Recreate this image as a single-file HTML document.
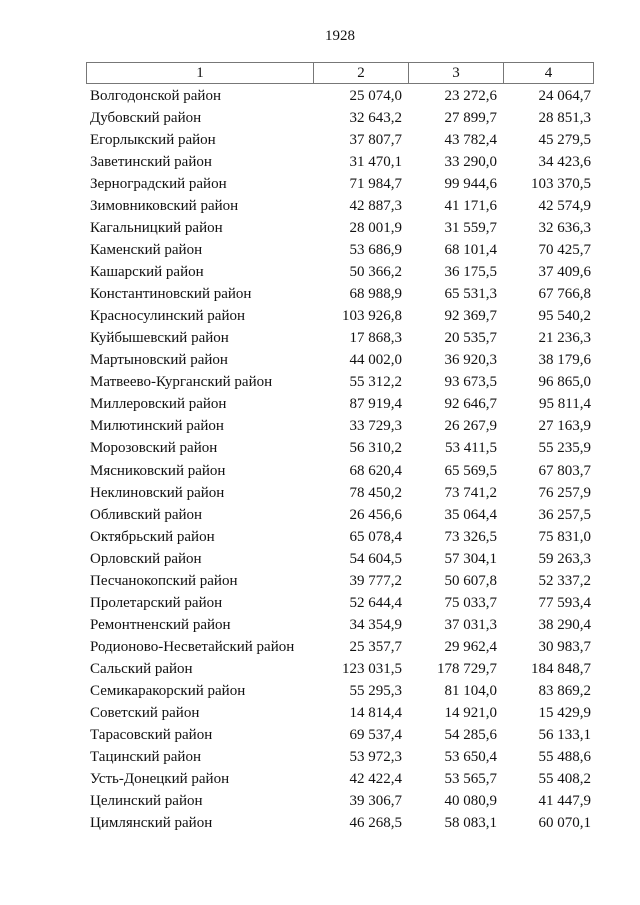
<!DOCTYPE html>
<html><head><meta charset="utf-8"><style>
body{margin:0;width:640px;height:905px;background:#fff;font-family:"Liberation Serif",serif;color:#111;position:relative;}
.pn{position:absolute;top:28px;left:0;width:680px;text-align:center;font-size:15px;}
.hdr{position:absolute;top:62px;left:86px;width:508px;height:22px;border:1px solid #777;box-sizing:border-box;}
.hdr div{position:absolute;top:0;height:20px;line-height:21px;text-align:center;font-size:15px;border-right:1px solid #777;}
.r{position:absolute;left:0;width:640px;height:22px;font-size:15px;line-height:22px;}
.r span{position:absolute;white-space:nowrap;}
.n{left:90px;}
.a{right:238px;}.b{right:143px;}.c{right:49px;}
</style></head><body>
<div class="pn">1928</div>
<div class="hdr">
<div style="left:0;width:226px">1</div>
<div style="left:227px;width:94px">2</div>
<div style="left:322px;width:94px">3</div>
<div style="left:417px;width:89px;border-right:none">4</div>
</div>
<div id="rows"></div>
<script>
var d=[["Волгодонской район","25 074,0","23 272,6","24 064,7"],
["Дубовский район","32 643,2","27 899,7","28 851,3"],
["Егорлыкский район","37 807,7","43 782,4","45 279,5"],
["Заветинский район","31 470,1","33 290,0","34 423,6"],
["Зерноградский район","71 984,7","99 944,6","103 370,5"],
["Зимовниковский район","42 887,3","41 171,6","42 574,9"],
["Кагальницкий район","28 001,9","31 559,7","32 636,3"],
["Каменский район","53 686,9","68 101,4","70 425,7"],
["Кашарский район","50 366,2","36 175,5","37 409,6"],
["Константиновский район","68 988,9","65 531,3","67 766,8"],
["Красносулинский район","103 926,8","92 369,7","95 540,2"],
["Куйбышевский район","17 868,3","20 535,7","21 236,3"],
["Мартыновский район","44 002,0","36 920,3","38 179,6"],
["Матвеево-Курганский район","55 312,2","93 673,5","96 865,0"],
["Миллеровский район","87 919,4","92 646,7","95 811,4"],
["Милютинский район","33 729,3","26 267,9","27 163,9"],
["Морозовский район","56 310,2","53 411,5","55 235,9"],
["Мясниковский район","68 620,4","65 569,5","67 803,7"],
["Неклиновский район","78 450,2","73 741,2","76 257,9"],
["Обливский район","26 456,6","35 064,4","36 257,5"],
["Октябрьский район","65 078,4","73 326,5","75 831,0"],
["Орловский район","54 604,5","57 304,1","59 263,3"],
["Песчанокопский район","39 777,2","50 607,8","52 337,2"],
["Пролетарский район","52 644,4","75 033,7","77 593,4"],
["Ремонтненский район","34 354,9","37 031,3","38 290,4"],
["Родионово-Несветайский район","25 357,7","29 962,4","30 983,7"],
["Сальский район","123 031,5","178 729,7","184 848,7"],
["Семикаракорский район","55 295,3","81 104,0","83 869,2"],
["Советский район","14 814,4","14 921,0","15 429,9"],
["Тарасовский район","69 537,4","54 285,6","56 133,1"],
["Тацинский район","53 972,3","53 650,4","55 488,6"],
["Усть-Донецкий район","42 422,4","53 565,7","55 408,2"],
["Целинский район","39 306,7","40 080,9","41 447,9"],
["Цимлянский район","46 268,5","58 083,1","60 070,1"]];
var h="";d.forEach(function(r,i){h+='<div class="r" style="top:'+(85+i*22.03)+'px"><span class="n">'+r[0]+'</span><span class="a">'+r[1]+'</span><span class="b">'+r[2]+'</span><span class="c">'+r[3]+'</span></div>';});
document.getElementById("rows").innerHTML=h;
</script>
</body></html>
